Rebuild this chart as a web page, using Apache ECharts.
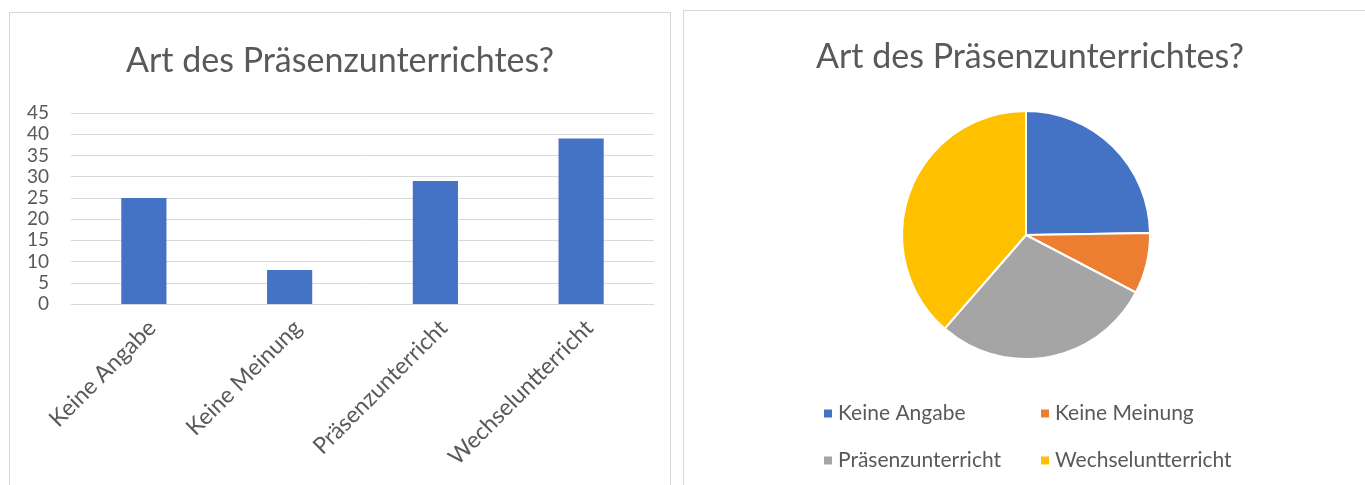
<!DOCTYPE html>
<html>
<head>
<meta charset="utf-8">
<title>Art des Präsenzunterrichtes?</title>
<script src="https://cdn.jsdelivr.net/npm/echarts@6/dist/echarts.min.js"></script>
<style>
  html, body { margin: 0; padding: 0; background: #fff; overflow: hidden; }
  .com-container {
    position: absolute;
    border: 1px solid #d9d9d9;
    box-sizing: border-box;
    background: #fff;
  }
  #bar_box { left: 9px; top: 12px; width: 662px; height: 490px; }
  #pie_box { left: 683px; top: 10px; width: 700px; height: 490px; }
  .com-chart { width: 100%; height: 100%; }
</style>
</head>
<body>
<div class="com-container" id="bar_box"><div class="com-chart" id="bar_ref"></div></div>
<div class="com-container" id="pie_box"><div class="com-chart" id="pie_ref"></div></div>
<script>
const titleText = 'Art des Präsenzunterrichtes?'
const categories = ['Keine Angabe', 'Keine Meinung', 'Präsenzunterricht', 'Wechseluntterricht']
const counts = [25, 8, 29, 39]
const sliceColors = ['#4472C4', '#ED7D31', '#A5A5A5', '#FFC000']

const fontFamily = 'Lato, "Open Sans", sans-serif'
const textColor = '#595959'

// Säulendiagramm links
const barChart = echarts.init(document.getElementById('bar_ref'), null, { renderer: 'canvas' })
barChart.setOption({
  animation: false,
  textStyle: { fontFamily: fontFamily },
  title: {
    text: titleText,
    left: 'center',
    top: 26,
    textStyle: { fontSize: 34, fontWeight: 'normal', color: textColor, fontFamily: fontFamily }
  },
  grid: { left: 61, right: 16, top: 100, bottom: 197 },
  xAxis: {
    type: 'category',
    data: categories,
    axisLine: { show: true, lineStyle: { color: '#d9d9d9', width: 1 } },
    axisTick: { show: false },
    axisLabel: {
      rotate: 45,
      interval: 0,
      margin: 12,
      verticalAlign: 'top',
      fontSize: 23,
      color: textColor,
      fontFamily: fontFamily
    }
  },
  yAxis: {
    type: 'value',
    min: 0,
    max: 45,
    interval: 5,
    axisLine: { show: false },
    axisTick: { show: false },
    splitLine: { lineStyle: { color: '#d9d9d9', width: 1 } },
    axisLabel: { fontSize: 19, color: textColor, margin: 22, fontFamily: fontFamily }
  },
  series: [
    {
      type: 'bar',
      data: counts,
      barWidth: '31%',
      itemStyle: { color: '#4472C4' }
    }
  ]
})

// Kreisdiagramm rechts
const pieData = categories.map((name, i) => {
  return { name: name, value: counts[i], itemStyle: { color: sliceColors[i] } }
})
// je Eintrag eine eigene Legende, damit die Spalten bündig stehen
const legendPos = [[133, 387], [350, 387], [133, 434], [350, 434]]
const legends = categories.map((name, i) => {
  return {
    data: [name],
    left: legendPos[i][0],
    top: legendPos[i][1],
    icon: 'rect',
    itemWidth: 10,
    itemHeight: 10,
    textStyle: { fontSize: 21, color: textColor, fontFamily: fontFamily }
  }
})
const pieChart = echarts.init(document.getElementById('pie_ref'), null, { renderer: 'canvas' })
pieChart.setOption({
  animation: false,
  textStyle: { fontFamily: fontFamily },
  title: {
    text: titleText,
    left: 341,
    textAlign: 'center',
    top: 24,
    textStyle: { fontSize: 34, fontWeight: 'normal', color: textColor, fontFamily: fontFamily }
  },
  legend: legends,
  series: [
    {
      type: 'pie',
      center: [342, 224],
      radius: 124,
      startAngle: 90,
      clockwise: true,
      label: { show: false },
      labelLine: { show: false },
      itemStyle: { borderColor: '#fff', borderWidth: 2 },
      data: pieData
    }
  ]
})
</script>
</body>
</html>
